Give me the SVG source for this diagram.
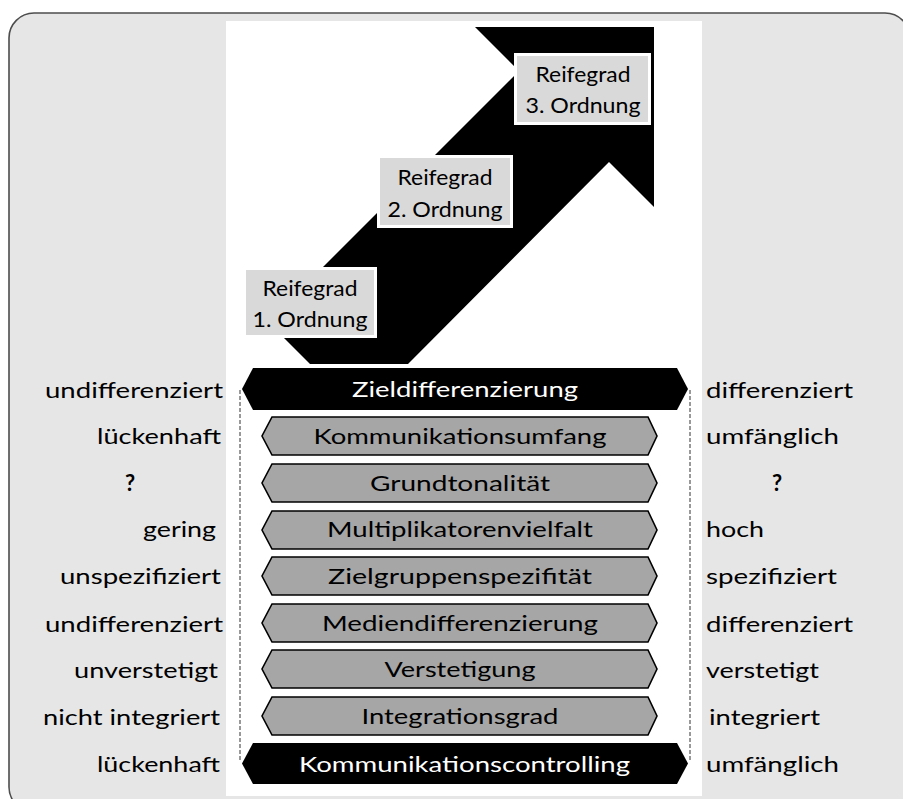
<svg xmlns="http://www.w3.org/2000/svg" width="903" height="799" viewBox="0 0 903 799">
  <style>
    .lbl { font-family: Lato, "Open Sans", "Liberation Sans", sans-serif; font-size: 22px; fill: #000; }
    .rt { text-anchor: end; }
    .lt { text-anchor: start; }
    .mid { text-anchor: middle; }
    .inv { fill: #fff; }
    .q { font-weight: bold; }
    .band { fill: #a6a6a6; stroke: #000; stroke-width: 1.6; stroke-linejoin: miter; }
    .bandDark { fill: #000; }
    .stage { fill: #d9d9d9; stroke: #fff; stroke-width: 3; }
    .guide { stroke: #333; stroke-width: 1; stroke-dasharray: 4 2; fill: none; }
  </style>

  <!-- frame and central panel -->
  <rect x="9" y="13" width="901" height="799" rx="25" ry="25" fill="#e6e6e6" stroke="#4d4d4d" stroke-width="1.6"/>
  <rect x="226" y="21" width="476" height="775" fill="#fff"/>

  <!-- rising arrow -->
  <g id="arrow">
    <polygon points="268,322 519,71 475,27 654,27 654,207 609,162 408,364 310,364" fill="#000"/>
  </g>

  <!-- maturity stages -->
  <g id="stage1">
    <rect class="stage" x="244.5" y="268.5" width="131" height="68"/>
    <text class="lbl mid" x="310" y="296" textLength="95" lengthAdjust="spacingAndGlyphs">Reifegrad</text>
    <text class="lbl mid" x="310" y="327" textLength="115" lengthAdjust="spacingAndGlyphs">1. Ordnung</text>
  </g>
  <g id="stage2">
    <rect class="stage" x="378.5" y="156.5" width="133" height="70"/>
    <text class="lbl mid" x="445" y="185" textLength="95" lengthAdjust="spacingAndGlyphs">Reifegrad</text>
    <text class="lbl mid" x="445" y="217" textLength="115" lengthAdjust="spacingAndGlyphs">2. Ordnung</text>
  </g>
  <g id="stage3">
    <rect class="stage" x="515.5" y="54.5" width="134" height="69"/>
    <text class="lbl mid" x="583" y="82" textLength="95" lengthAdjust="spacingAndGlyphs">Reifegrad</text>
    <text class="lbl mid" x="583" y="113" textLength="115" lengthAdjust="spacingAndGlyphs">3. Ordnung</text>
  </g>

  <!-- dashed side guides -->
  <g id="guides">
    <line class="guide" x1="240" y1="390" x2="240" y2="762"/>
    <line class="guide" x1="690" y1="390" x2="690" y2="762"/>
  </g>

  <!-- dimension bands -->
  <g id="band-zieldifferenzierung">
    <polygon class="bandDark" points="253,368 677,368 688,389 677,410 253,410 242,389"/>
    <text class="lbl mid inv" x="465" y="397" textLength="226" lengthAdjust="spacingAndGlyphs">Zieldifferenzierung</text>
    <text class="lbl rt" x="223" y="398" textLength="178" lengthAdjust="spacingAndGlyphs">undifferenziert</text>
    <text class="lbl lt" x="706" y="398" textLength="147" lengthAdjust="spacingAndGlyphs">differenziert</text>
  </g>
  <g id="band-kommunikationsumfang">
    <polygon class="band" points="272,417 648,417 657,436 648,455 272,455 262,436"/>
    <text class="lbl mid" x="460" y="444" textLength="293" lengthAdjust="spacingAndGlyphs">Kommunikationsumfang</text>
    <text class="lbl rt" x="221" y="444" textLength="124" lengthAdjust="spacingAndGlyphs">lückenhaft</text>
    <text class="lbl lt" x="706" y="444" textLength="133" lengthAdjust="spacingAndGlyphs">umfänglich</text>
  </g>
  <g id="band-grundtonalitaet">
    <polygon class="band" points="272,464 648,464 657,483 648,502 272,502 262,483"/>
    <text class="lbl mid" x="460" y="491" textLength="180" lengthAdjust="spacingAndGlyphs">Grundtonalität</text>
    <text class="lbl mid q" x="130" y="491">?</text>
    <text class="lbl mid q" x="777" y="491">?</text>
  </g>
  <g id="band-multiplikatorenvielfalt">
    <polygon class="band" points="272,511 648,511 657,530 648,549 272,549 262,530"/>
    <text class="lbl mid" x="460" y="537" textLength="266" lengthAdjust="spacingAndGlyphs">Multiplikatorenvielfalt</text>
    <text class="lbl rt" x="216" y="537" textLength="73" lengthAdjust="spacingAndGlyphs">gering</text>
    <text class="lbl lt" x="706" y="537" textLength="58" lengthAdjust="spacingAndGlyphs">hoch</text>
  </g>
  <g id="band-zielgruppenspezifitaet">
    <polygon class="band" points="272,557 648,557 657,576 648,595 272,595 262,576"/>
    <text class="lbl mid" x="460" y="584" textLength="264" lengthAdjust="spacingAndGlyphs">Zielgruppenspezifität</text>
    <text class="lbl rt" x="221" y="584" textLength="161" lengthAdjust="spacingAndGlyphs">unspezifiziert</text>
    <text class="lbl lt" x="706" y="584" textLength="131" lengthAdjust="spacingAndGlyphs">spezifiziert</text>
  </g>
  <g id="band-mediendifferenzierung">
    <polygon class="band" points="272,604 648,604 657,623 648,642 272,642 262,623"/>
    <text class="lbl mid" x="460" y="631" textLength="276" lengthAdjust="spacingAndGlyphs">Mediendifferenzierung</text>
    <text class="lbl rt" x="223" y="632" textLength="178" lengthAdjust="spacingAndGlyphs">undifferenziert</text>
    <text class="lbl lt" x="706" y="632" textLength="147" lengthAdjust="spacingAndGlyphs">differenziert</text>
  </g>
  <g id="band-verstetigung">
    <polygon class="band" points="272,650 648,650 657,669 648,688 272,688 262,669"/>
    <text class="lbl mid" x="460" y="677" textLength="151" lengthAdjust="spacingAndGlyphs">Verstetigung</text>
    <text class="lbl rt" x="218" y="678" textLength="144" lengthAdjust="spacingAndGlyphs">unverstetigt</text>
    <text class="lbl lt" x="706" y="678" textLength="113" lengthAdjust="spacingAndGlyphs">verstetigt</text>
  </g>
  <g id="band-integrationsgrad">
    <polygon class="band" points="272,697 648,697 657,716 648,735 272,735 262,716"/>
    <text class="lbl mid" x="460" y="724" textLength="197" lengthAdjust="spacingAndGlyphs">Integrationsgrad</text>
    <text class="lbl rt" x="220" y="725" textLength="177" lengthAdjust="spacingAndGlyphs">nicht integriert</text>
    <text class="lbl lt" x="709" y="725" textLength="111" lengthAdjust="spacingAndGlyphs">integriert</text>
  </g>
  <g id="band-kommunikationscontrolling">
    <polygon class="bandDark" points="253,743 677,743 688,763.5 677,784 253,784 242,763.5"/>
    <text class="lbl mid inv" x="464.5" y="772" textLength="331" lengthAdjust="spacingAndGlyphs">Kommunikationscontrolling</text>
    <text class="lbl rt" x="220" y="772" textLength="123" lengthAdjust="spacingAndGlyphs">lückenhaft</text>
    <text class="lbl lt" x="706" y="772" textLength="133" lengthAdjust="spacingAndGlyphs">umfänglich</text>
  </g>
</svg>
